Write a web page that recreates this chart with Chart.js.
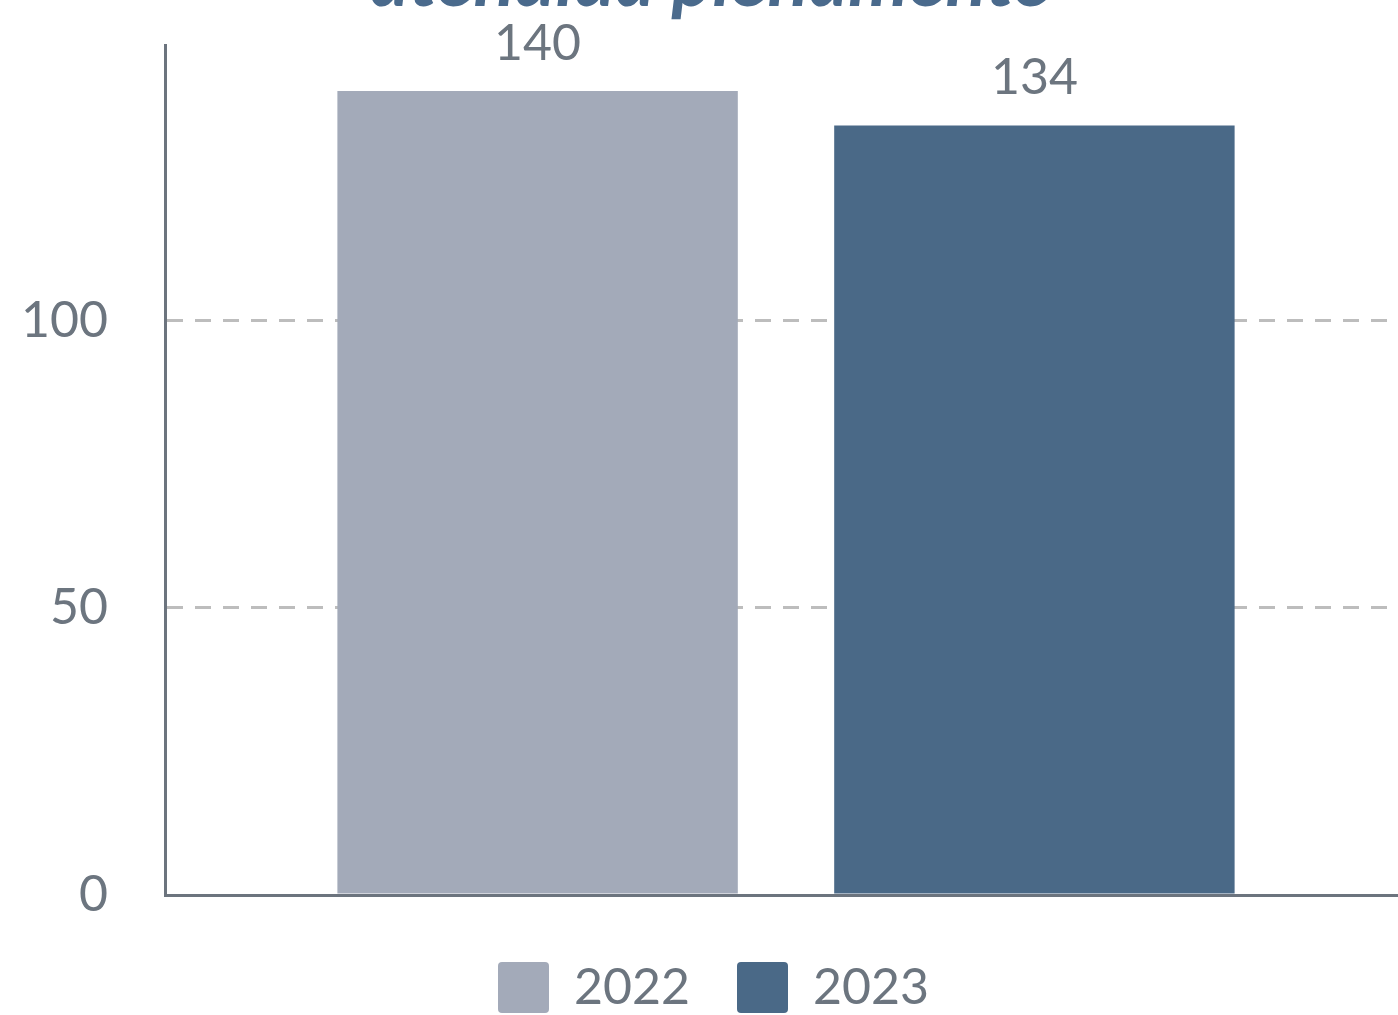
<!DOCTYPE html>
<html>
<head>
<meta charset="utf-8">
<script src="https://cdn.jsdelivr.net/npm/chart.js@4/dist/chart.umd.min.js"></script>
<style>
  html, body { margin: 0; padding: 0; background: #ffffff; overflow: hidden; width: 1398px; height: 1015px; }
  #wrap { position: absolute; left: 0; top: 0; width: 1420px; height: 1023px; }
</style>
</head>
<body>
<div id="wrap"><canvas id="c"></canvas></div>
<script>
const categories = [''];
const seriesNames = ['2022', '2023'];
const values2022 = [140];
const values2023 = [134];
const seriesColors = ['#a3aab9', '#4a6987'];
const titleLine = 'atendida plenamente';
const yTicks = [0, 50, 100];
const yMax = 148;

const textGray = '#6c757f';
const axisGray = '#6c747e';

const titlePlugin = {
  id: 'clippedTitle',
  afterDraw(chart) {
    const ctx = chart.ctx;
    ctx.save();
    ctx.font = 'italic bold 76px Lato';
    ctx.fillStyle = '#4a6a8c';
    ctx.textAlign = 'center';
    ctx.textBaseline = 'alphabetic';
    ctx.fillText(titleLine, chart.width / 2, 6);
    ctx.restore();
  }
};

const valueLabels = {
  id: 'valueLabels',
  afterDatasetsDraw(chart) {
    const ctx = chart.ctx;
    ctx.save();
    ctx.font = '50px Lato';
    ctx.fillStyle = textGray;
    ctx.textAlign = 'center';
    ctx.textBaseline = 'alphabetic';
    chart.data.datasets.forEach((ds, i) => {
      const meta = chart.getDatasetMeta(i);
      meta.data.forEach((bar, j) => {
        ctx.fillText(String(ds.data[j]), bar.x, bar.y - 31);
      });
    });
    ctx.restore();
  }
};

new Chart(document.getElementById('c'), {
  type: 'bar',
  data: {
    labels: categories,
    datasets: [
      { label: seriesNames[0], data: values2022, backgroundColor: seriesColors[0] },
      { label: seriesNames[1], data: values2023, backgroundColor: seriesColors[1] }
    ]
  },
  options: {
    responsive: true,
    maintainAspectRatio: false,
    animation: false,
    categoryPercentage: 0.8,
    barPercentage: 0.806,
    layout: { padding: { top: 45, left: 20, right: 13, bottom: 0 } },
    plugins: {
      title: { display: false },
      tooltip: { enabled: false },
      legend: {
        position: 'bottom',
        labels: {
          boxWidth: 51,
          boxHeight: 51,
          padding: 47,
          useBorderRadius: true,
          borderRadius: 4,
          color: textGray,
          font: { family: 'Lato', size: 50 }
        }
      }
    },
    scales: {
      x: {
        afterFit(s) { s.height = 20; s.paddingLeft = 0; s.paddingRight = 0; },
        grid: { display: false },
        ticks: { display: false },
        border: { display: true, color: axisGray, width: 3 }
      },
      y: {
        min: 0,
        max: yMax,
        afterFit(s) { s.width = 145; s.paddingTop = 0; s.paddingBottom = 0; },
        afterBuildTicks(s) { s.ticks = yTicks.map(v => ({ value: v })); },
        ticks: {
          padding: 57,
          color: textGray,
          font: { family: 'Lato', size: 50 }
        },
        grid: {
          drawTicks: false,
          lineWidth: 3,
          color: (c) => (c.tick && c.tick.value === 0) ? 'rgba(0,0,0,0)' : '#bdbdbd'
        },
        border: { display: true, color: axisGray, width: 3, dash: [16, 12] }
      }
    }
  },
  plugins: [titlePlugin, valueLabels]
});
</script>
</body>
</html>
